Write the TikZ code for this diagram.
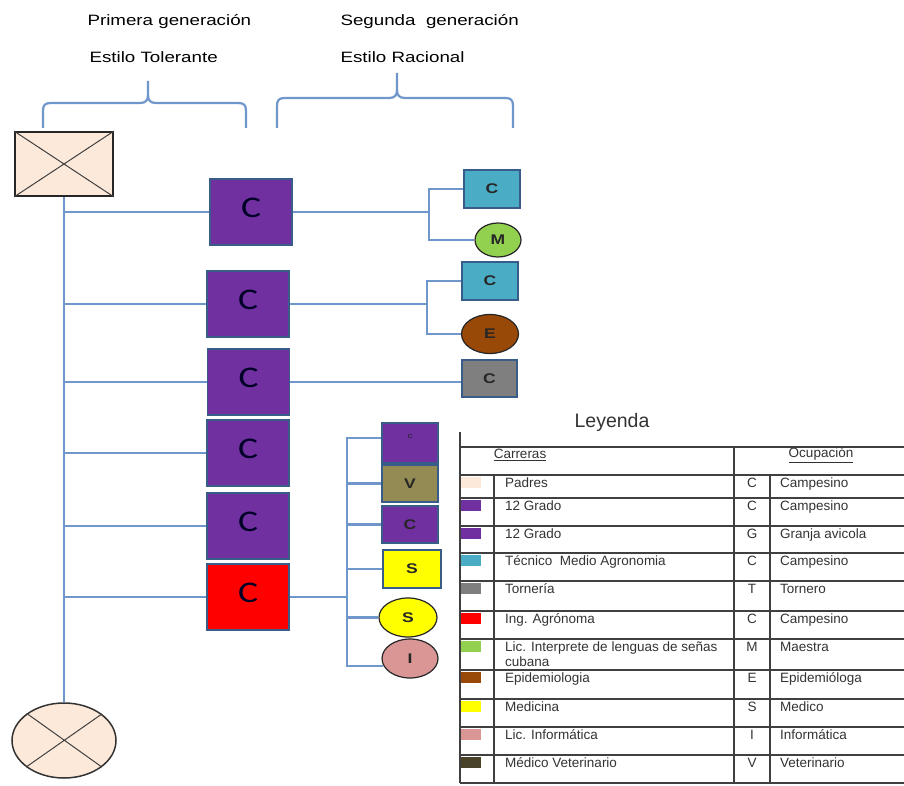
\documentclass[tikz,border=0pt]{standalone}
\usepackage{fontspec}
\setmainfont{Liberation Sans}
\newfontfamily\ancho{Liberation Sans}[FakeStretch=1.25]
\newfontfamily\letraC{Carlito}[FakeStretch=1.25]
\usetikzlibrary{shapes.geometric}
\definecolor{padres}{HTML}{FDE9D9}
\definecolor{grado}{HTML}{7030A0}
\definecolor{tecnico}{HTML}{4BACC6}
\definecolor{torneria}{HTML}{7F7F7F}
\definecolor{ingagr}{HTML}{FF0000}
\definecolor{interp}{HTML}{92D050}
\definecolor{epidem}{HTML}{984807}
\definecolor{medicina}{HTML}{FFFF00}
\definecolor{informat}{HTML}{D99694}
\definecolor{veter}{HTML}{494429}
\definecolor{vbox}{HTML}{948A54}
\definecolor{borde}{HTML}{385D8A}
\definecolor{enlace}{HTML}{6F97CB}
\begin{document}
\begin{tikzpicture}[x=1pt, y=-1pt,
    enl/.style={draw=enlace, line width=2.2pt},
    hijo/.style={draw=borde, line width=1.4pt, minimum width=82pt, minimum height=66pt, inner sep=0pt, text depth=9pt, font=\letraC\fontsize{30}{30}\selectfont, text=black!85!blue},
    nieto/.style={draw=borde, line width=1.4pt, minimum width=56pt, minimum height=38pt, inner sep=0pt, font=\ancho\bfseries\fontsize{14}{14}\selectfont, text=black!85},
    nietoe/.style={ellipse, draw=black!85, line width=1.2pt, inner sep=0pt, font=\ancho\bfseries\fontsize{14}{14}\selectfont, text=black!85},
    leg/.style={font=\fontsize{13.5}{16}\selectfont, inner sep=0pt, text=black!80},
    tabla/.style={draw=black!75, line width=1.1pt}]
    \useasboundingbox (0,0) rectangle (904,786);
    % Titulos y llaves
    \node[anchor=west, font=\ancho\fontsize{15}{15}\selectfont] (gen1) at (84,22) {Primera generación};
    \node[anchor=west, font=\ancho\fontsize{15}{15}\selectfont] (est1) at (86,57) {Estilo Tolerante};
    \node[anchor=west, font=\ancho\fontsize{15}{15}\selectfont] (gen2) at (337,22) {Segunda\ \ generación};
    \node[anchor=west, font=\ancho\fontsize{15}{15}\selectfont] (est2) at (337,57) {Estilo Racional};
    \draw[enl] (43,128) -- (43,111) .. controls (43,105) and (45,103) .. (51,103) -- (140,103) .. controls (146,103) and (148,100) .. (148,95) -- (148,81);
    \draw[enl] (148,95) .. controls (148,100) and (150,103) .. (156,103) -- (238,103) .. controls (244,103) and (246,105) .. (246,111) -- (246,128);
    \draw[enl] (277,128) -- (277,106) .. controls (277,100) and (279,98) .. (285,98) -- (389,98) .. controls (395,98) and (397,95) .. (397,90) -- (397,73);
    \draw[enl] (397,90) .. controls (397,95) and (399,98) .. (405,98) -- (505,98) .. controls (511,98) and (513,100) .. (513,106) -- (513,128);
    % Padres
    \node[draw=black!85, line width=1.8pt, fill=padres, minimum width=98pt, minimum height=64pt, inner sep=0pt] (padre) at (64,164) {};
    \draw[black!75, line width=1pt] (padre.north west) -- (padre.south east) (padre.north east) -- (padre.south west);
    \node[ellipse, draw=black!80, line width=1.5pt, fill=padres, minimum width=104pt, minimum height=75pt, inner sep=0pt] (madre) at (64,740.5) {};
    \draw[black!75, line width=1pt] (madre.35.5) -- (madre.215.5) (madre.144.5) -- (madre.-35.5);
    % Primera generacion
    \foreach \n/\x/\y in {1/251/212, 2/248/304, 3/248.5/382, 4/248/453, 5/248/526}
        \node[hijo, fill=grado] (h\n) at (\x,\y) {C};
    \node[hijo, fill=ingagr] (h6) at (248,597) {C};
    \draw[enl] (padre.south) -- (madre.north);
    \foreach \n in {1,...,6} \draw[enl] (padre.south |- h\n.west) -- (h\n.west);
    % Segunda generacion
    \node[nieto, fill=tecnico] (n11) at (492,189) {C};
    \node[nietoe, fill=interp, minimum width=46pt, minimum height=34pt] (n12) at (498,240) {M};
    \node[nieto, fill=tecnico] (n21) at (490,281) {C};
    \node[nietoe, fill=epidem, minimum width=57pt, minimum height=39pt] (n22) at (490,334) {E};
    \node[nieto, fill=torneria, minimum width=55pt, minimum height=37pt] (n31) at (489.5,378.5) {C};
    \node[nieto, fill=grado, minimum height=40pt, text depth=14pt, font=\ancho\fontsize{8}{8}\selectfont] (n61) at (410,443) {c};
    \node[nieto, fill=vbox, minimum height=37pt] (n62) at (410,483.5) {V};
    \node[nieto, fill=grado, minimum height=37pt] (n63) at (410,524.5) {C};
    \node[nieto, fill=medicina, minimum width=58pt] (n64) at (412,569) {S};
    \node[nietoe, fill=medicina, minimum width=58pt, minimum height=39pt] (n65) at (408,617.5) {S};
    \node[nietoe, fill=informat, minimum width=56pt, minimum height=39pt] (n66) at (410,658.5) {I};
    \coordinate (j1) at (429,212);
    \coordinate (j2) at (427,304);
    \coordinate (j6) at (347,597);
    \draw[enl] (h1.east) -- (j1) |- (n11.west);
    \draw[enl] (j1) |- (n12.west);
    \draw[enl] (h2.east) -- (j2) |- (n21.west);
    \draw[enl] (j2) |- (n22.west);
    \draw[enl] (h3.east) -- (h3.east -| n31.west);
    \draw[enl] (h6.east) -- (j6);
    \draw[enl] (j6) |- ([yshift=5pt]n61.west);
    \foreach \k in {2,...,5} \draw[enl] (j6) |- (n6\k.west);
    \draw[enl] (j6) |- (n66.195);
    % Leyenda
    \node[font=\fontsize{19.5}{20}\selectfont, text=black!80] (leyenda) at (612,422) {Leyenda};
    \draw[tabla] (460,432) -- (460,783);
    \draw[tabla] (460,447) -- (904,447);
    \draw[tabla] (734,447) -- (734,783);
    \foreach \y in {475,498,526,553,581,611,639,670,699,727,755,783} \draw[tabla] (460,\y) -- (904,\y);
    \draw[tabla] (494,475) -- (494,783);
    \draw[tabla] (770,475) -- (770,783);
    \node[leg] (carreras) at (520,455) {\underline{Carreras}};
    \node[leg] (ocupacion) at (821,455) {\underline{Ocupación}};
    \foreach \y/\colr/\carrera/\letra/\ocup in {475/padres/Padres/C/Campesino, 498/grado/12 Grado/C/Campesino,
        526/grado/12 Grado/G/Granja avicola, 553/tecnico/Técnico\ \ Medio Agronomia/C/Campesino,
        581/torneria/Tornería/T/Tornero, 611/ingagr/Ing. Agrónoma/C/Campesino,
        639/interp/Lic. Interprete de lenguas de señas/M/Maestra, 670/epidem/Epidemiologia/E/Epidemióloga,
        699/medicina/Medicina/S/Medico, 727/informat/Lic. Informática/I/Informática,
        755/veter/Médico Veterinario/V/Veterinario} {
        \fill[\colr] (461,\y+2) rectangle (481,\y+13);
        \node[leg, anchor=base west] (car\y) at (505,\y+12) {\carrera};
        \node[leg, anchor=base] (let\y) at (752,\y+12) {\letra};
        \node[leg, anchor=base west] (ocu\y) at (780,\y+12) {\ocup};
    }
    \node[leg, anchor=base west] (cubana) at (505,666) {cubana};
\end{tikzpicture}
\end{document}
